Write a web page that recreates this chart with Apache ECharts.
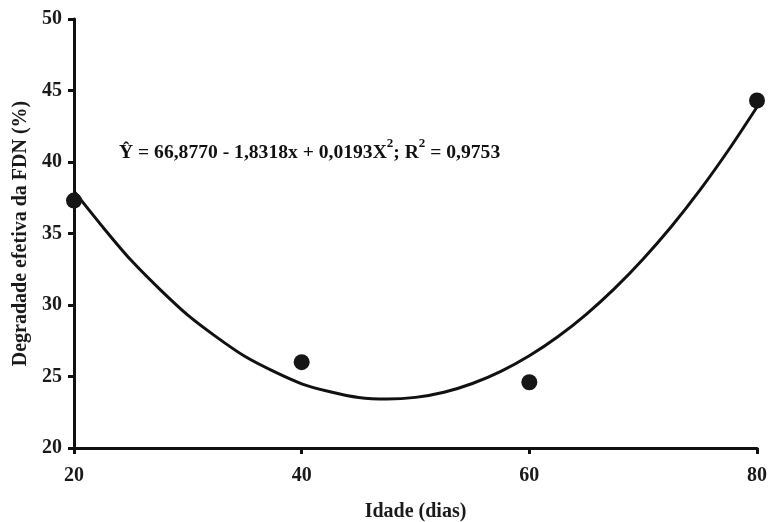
<!DOCTYPE html>
<html>
<head>
<meta charset="utf-8">
<script src="https://cdn.jsdelivr.net/npm/echarts@6/dist/echarts.min.js"></script>
<style>html,body{margin:0;padding:0;background:#fff}#c{width:771px;height:522px}</style>
</head>
<body>
<div id="c"></div>
<script>
// Observed points
var obsX = [20, 40, 60, 80];
var obsY = [37.3, 26.0, 24.6, 44.3];
// Fitted curve
var curveX = [20, 22.5, 25, 27.5, 30, 32.5, 35, 37.5, 40, 42.5, 45, 47.5, 50, 52.5, 55, 57.5, 60, 62.5, 65, 67.5, 70, 72.5, 75, 77.5, 80];
var curveY = [37.96, 35.48, 33.14, 31.13, 29.29, 27.77, 26.41, 25.37, 24.49, 23.93, 23.53, 23.42, 23.54, 23.90, 24.51, 25.36, 26.45, 27.78, 29.35, 31.16, 33.22, 35.51, 38.05, 40.84, 43.85];
var xTicks = [20, 40, 60, 80];
var yTicks = [20, 25, 30, 35, 40, 45, 50];

var font = '"Liberation Serif", "Times New Roman", serif';
var chart = echarts.init(document.getElementById('c'));
var curve = curveX.map(function (x, i) { return [x, curveY[i]]; });
var obs = obsX.map(function (x, i) { return [x, obsY[i]]; });

chart.setOption({
  animation: false,
  backgroundColor: '#fff',
  grid: { left: 74, right: 14, top: 19, bottom: 74, outerBoundsMode: 'none', containLabel: false },
  xAxis: {
    type: 'value', min: xTicks[0], max: xTicks[xTicks.length - 1], interval: 20,
    name: 'Idade (dias)', nameLocation: 'middle', nameGap: 54,
    nameTextStyle: { fontFamily: font, fontWeight: 'bold', fontSize: 20, color: '#1a1a1a' },
    axisLine: { lineStyle: { color: '#111', width: 3 } },
    axisTick: { show: true, length: 6, lineStyle: { color: '#111', width: 3 } },
    axisLabel: { margin: 18, fontFamily: font, fontWeight: 'bold', fontSize: 20, color: '#1a1a1a' },
    splitLine: { show: false }
  },
  yAxis: {
    type: 'value', min: yTicks[0], max: yTicks[yTicks.length - 1], interval: 5,
    name: 'Degradade efetiva da FDN (%)', nameLocation: 'middle', nameGap: 42,
    nameTextStyle: { fontFamily: font, fontWeight: 'bold', fontSize: 20, color: '#1a1a1a' },
    axisLine: { lineStyle: { color: '#111', width: 3 } },
    axisTick: { show: true, length: 6, lineStyle: { color: '#111', width: 3 } },
    axisLabel: { margin: 12, fontFamily: font, fontWeight: 'bold', fontSize: 20, color: '#1a1a1a' },
    splitLine: { show: false }
  },
  graphic: [{
    type: 'text', left: 119, top: 137, z: 10,
    style: {
      text: '{b|Ŷ = 66,8770 - 1,8318x + 0,0193X}{s|2}{b|; R}{s|2}{b| = 0,9753}',
      rich: {
        b: { fontFamily: font, fontWeight: 'bold', fontSize: 19.6, fill: '#111', verticalAlign: 'bottom', lineHeight: 26 },
        s: { fontFamily: font, fontWeight: 'bold', fontSize: 13, fill: '#111', verticalAlign: 'top', lineHeight: 26 }
      }
    }
  }],
  series: [{
    type: 'line', data: curve, smooth: 0.3, symbol: 'none',
    lineStyle: { color: '#111', width: 3 }, z: 2
  }, {
    type: 'scatter', data: obs, symbol: 'circle', symbolSize: 16,
    itemStyle: { color: '#161616', opacity: 1 }, z: 3
  }]
});
</script>
</body>
</html>
